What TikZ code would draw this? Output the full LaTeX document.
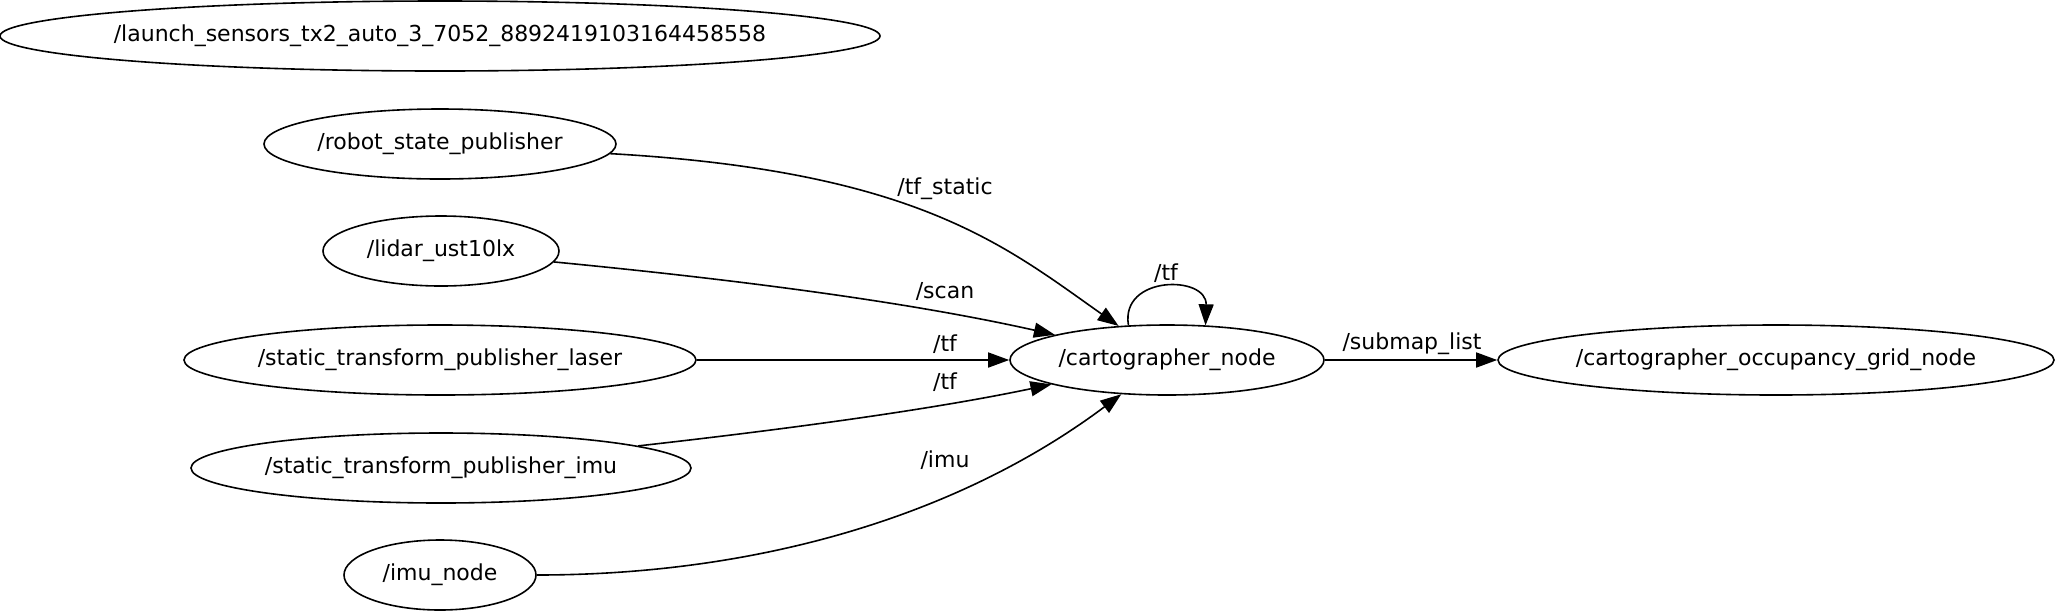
\documentclass[tikz,border=0pt]{standalone}
\usepackage{fontspec}
\setsansfont{DejaVu Sans}
\usetikzlibrary{shapes.geometric,arrows.meta}

\begin{document}
\begin{tikzpicture}[
  x=0.5pt, y=-0.5pt,
  font=\fontsize{11}{13}\selectfont\sffamily,
  ros/.style={draw,ellipse,line width=0.8pt,inner xsep=-15pt,inner ysep=0pt,minimum height=35pt},
  topic/.style={inner sep=1pt},
  link/.style={line width=0.8pt,-{Triangle[length=10.5pt,width=7.5pt]}}
]
\useasboundingbox (0,0) rectangle (2057,612);
\node[ros,minimum width=440pt] (launch)  at (440,36)  {/launch\_sensors\_tx2\_auto\_3\_7052\_8892419103164458558};
\node[ros,minimum width=176pt] (rsp)     at (440,144) {/robot\_state\_publisher};
\node[ros,minimum width=118pt] (lidar)   at (441,251) {/lidar\_ust10lx};
\node[ros,minimum width=256pt] (stlaser) at (440,360) {/static\_transform\_publisher\_laser};
\node[ros,minimum width=250pt] (stimu)   at (441,468) {/static\_transform\_publisher\_imu};
\node[ros,minimum width=96pt]  (imu)     at (440,575) {/imu\_node};
\node[ros,minimum width=157pt] (carto)   at (1167,360) {/cartographer\_node};
\node[ros,minimum width=278pt] (grid)    at (1776,360) {/cartographer\_occupancy\_grid\_node};

\draw[link] (rsp) .. controls (917,171) and (1005,246) .. (carto);
\draw[link] (lidar) .. controls (720,278) and (900,300) .. (carto);
\draw[link] (stlaser) -- (carto);
\draw[link] (stimu) .. controls (780,430) and (930,410) .. (carto);
\draw[link] (imu) .. controls (760,575) and (960,515) .. (carto);
\draw[link] (carto.138) .. controls (1120,275) and (1207,275) .. (carto.42);
\draw[link] (carto) -- (grid);

\node[topic] (ltfs)  at (945,189)  {/tf\_static};
\node[topic] (lscan) at (945,291)  {/scan};
\node[topic] (ltf1)  at (945,344)  {/tf};
\node[topic] (ltf2)  at (945,382)  {/tf};
\node[topic] (limu)  at (945,460)  {/imu};
\node[topic] (lloop) at (1166,273) {/tf};
\node[topic] (lsub)  at (1412,344) {/submap\_list};
\end{tikzpicture}
\end{document}
